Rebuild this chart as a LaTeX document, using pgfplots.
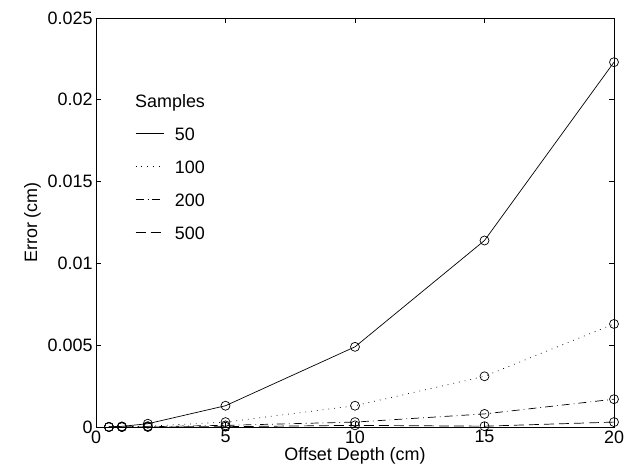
\documentclass[border=0pt]{standalone}
\usepackage{pgfplots}
\pgfplotsset{compat=1.18}
\usepackage{fontspec}
\setmainfont{Liberation Sans}

\begin{document}
\begin{tikzpicture}
\begin{axis}[
  name=main,
  scale only axis,
  width=518bp, height=409bp,
  xmin=0, xmax=20, ymin=0, ymax=0.025,
  xtick={0,5,10,15,20},
  ytick={0,0.005,0.01,0.015,0.02,0.025},
  scaled y ticks=false,
  yticklabel style={/pgf/number format/fixed,/pgf/number format/precision=3},
  /pgf/number format/assume math mode=true,
  tick label style={font=\fontsize{18}{20}\selectfont},
  label style={font=\fontsize{18}{20}\selectfont},
  xlabel={Offset Depth (cm)},
  ylabel={Error (cm)},
  xlabel style={yshift=3bp},
  major tick length=5bp,
  axis line style={line width=0.8bp},
  tick style={line width=0.8bp, black},
  every axis plot/.append style={black, line width=0.7bp, mark=o, mark size=4.5bp, mark options={solid, line width=0.7bp}},
  legend style={draw=none, fill=none, at={(rel axis cs:0.0753,0.736)}, anchor=north west,
    font=\fontsize{18}{20}\selectfont, row sep=19bp, inner xsep=0pt, inner ysep=0pt,
    nodes={inner sep=0pt, text height=14bp, text depth=0bp}},
  legend cell align=left,
  legend image code/.code={\draw[#1] (0bp,0bp) -- (28bp,0bp); \path (39bp,0bp);},
]
\addplot[solid] coordinates {(0.5,0.00001) (1,0.00004) (2,0.0002) (5,0.0013) (10,0.0049) (15,0.0114) (20,0.0223)};
\addplot[dotted, dash pattern=on 0.8bp off 5bp] coordinates {(0.5,0) (1,0.00001) (2,0.00005) (5,0.0003) (10,0.0013) (15,0.0031) (20,0.0063)};
\addplot[dash pattern=on 8bp off 4bp on 0.8bp off 4bp] coordinates {(0.5,0) (1,0) (2,0.00002) (5,0.0001) (10,0.0003) (15,0.0008) (20,0.0017)};
\addplot[dash pattern=on 10bp off 5bp] coordinates {(0.5,0) (1,0) (2,0) (5,0.00002) (10,0.0001) (15,0.00005) (20,0.0003)};
\legend{50,100,200,500}
\node[anchor=base west, font=\fontsize{18}{20}\selectfont, inner sep=0pt] at (rel axis cs:0.0753,0.782) {Samples};
\end{axis}
\pgfresetboundingbox
\path (main.south west) ++(-96bp,-47bp) coordinate (bl);
\path (main.north east) ++(17bp,18bp) coordinate (tr);
\path (bl) rectangle (tr);
\end{tikzpicture}
\end{document}
